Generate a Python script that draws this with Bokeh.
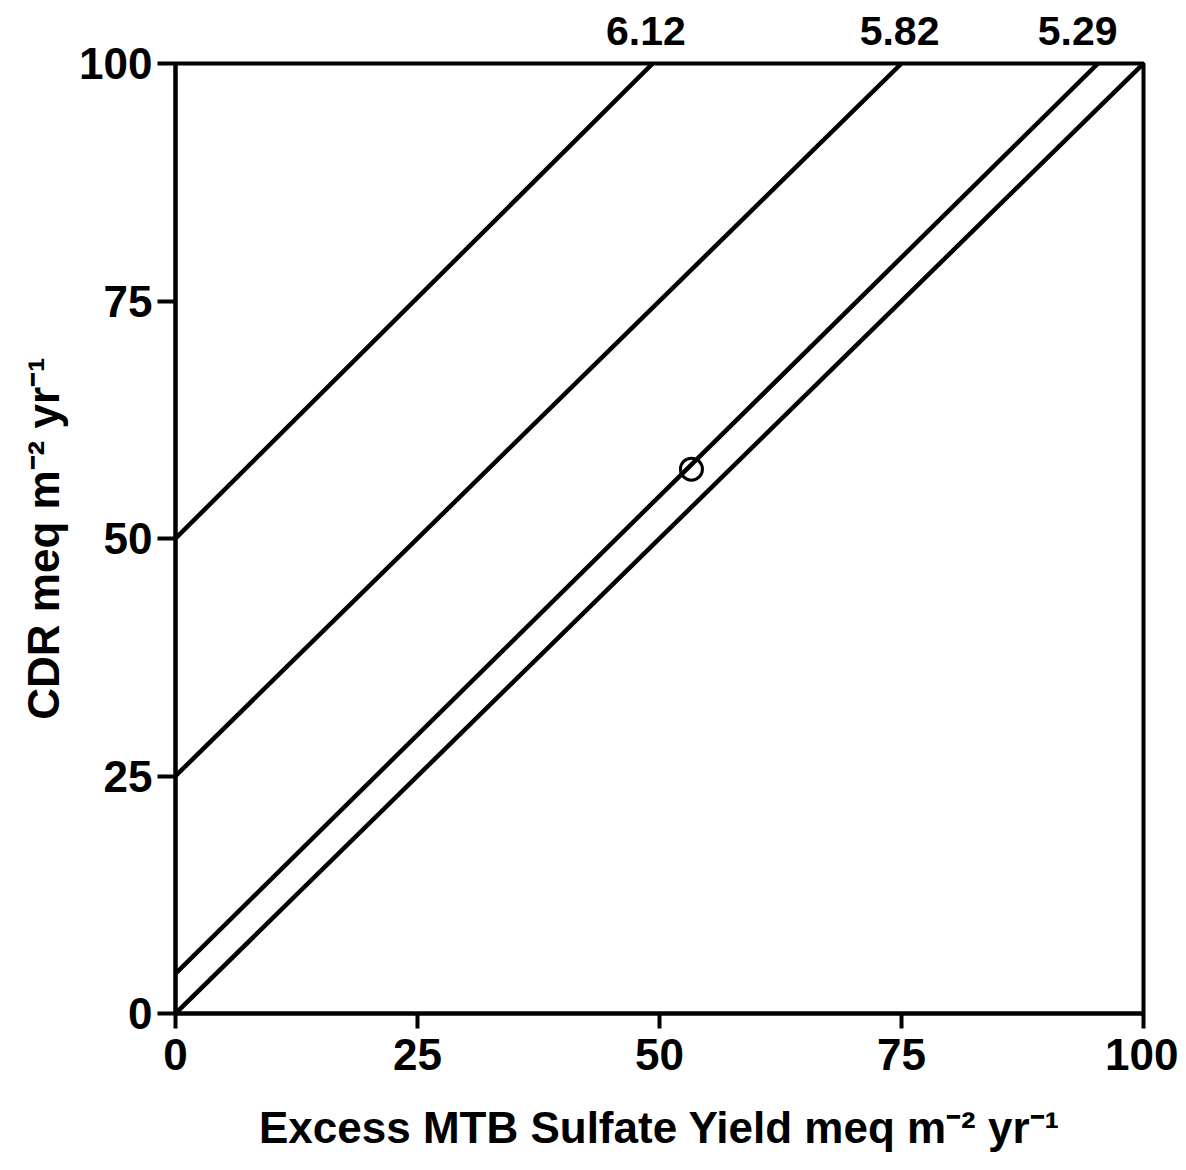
from bokeh.plotting import figure
from bokeh.models import FixedTicker, Range1d, LinearAxis
from bokeh.embed import file_html
from bokeh.resources import INLINE

# Lines (start/end in data units)
line_x0 = [0, 0, 0, 0]
line_y0 = [50, 25, 4.2, 0]
line_x1 = [49.3, 75, 95.3, 100]
line_y1 = [100, 100, 100, 100]

# Line value labels at the top (position along x at the top edge)
label_text = ["6.12", "5.82", "5.29"]
label_x = [48.6, 74.8, 93.2]

# Observed point
point_x = [53.3]
point_y = [57.3]

ticks = [0, 25, 50, 75, 100]
FONT = "Liberation Sans"

p = figure(output_backend="svg", toolbar_location=None,
           frame_width=968, frame_height=950,
           min_border_left=175, min_border_right=35,
           min_border_top=63, min_border_bottom=145,
           x_range=Range1d(0, 100), y_range=Range1d(0, 100))
p.background_fill_color = "white"
p.border_fill_color = "white"
p.outline_line_color = "black"
p.outline_line_width = 4
p.xgrid.visible = False
p.ygrid.visible = False

for ax in (p.xaxis[0], p.yaxis[0]):
    ax.ticker = FixedTicker(ticks=ticks)
    ax.axis_line_width = 4
    ax.major_tick_line_width = 4
    ax.minor_tick_line_color = None
    ax.major_tick_in = 0
    ax.major_label_text_font = FONT
    ax.major_label_text_font_size = "44px"
    ax.major_label_text_font_style = "bold"
    ax.major_label_text_color = "black"
    ax.axis_label_text_font = FONT
    ax.axis_label_text_font_size = "44px"
    ax.axis_label_text_font_style = "bold"
    ax.axis_label_text_color = "black"

p.xaxis.major_tick_out = 15
p.yaxis.major_tick_out = 18
p.xaxis.major_label_standoff = 10
p.yaxis.major_label_standoff = 5
p.xaxis.axis_label = "Excess MTB Sulfate Yield meq m\u207b\u00b2 yr\u207b\u00b9"
p.yaxis.axis_label = "CDR meq m\u207b\u00b2 yr\u207b\u00b9"
p.xaxis.axis_label_standoff = 30
p.yaxis.axis_label_standoff = 8

# Top axis carrying the line value labels
top = LinearAxis(ticker=FixedTicker(ticks=label_x),
                 major_label_overrides=dict(zip(label_x, label_text)))
top.axis_line_color = None
top.major_tick_line_color = None
top.minor_tick_line_color = None
top.major_tick_out = 0
top.major_tick_in = 0
top.major_label_standoff = 19
top.major_label_text_font = FONT
top.major_label_text_font_size = "41px"
top.major_label_text_font_style = "bold"
top.major_label_text_color = "black"
p.add_layout(top, "above")

p.segment(x0=line_x0, y0=line_y0, x1=line_x1, y1=line_y1,
          line_color="black", line_width=4.5)

p.scatter(point_x, point_y, marker="circle", size=22, fill_color=None,
          line_color="black", line_width=3)

open("out.html", "w").write(file_html(p, INLINE))
